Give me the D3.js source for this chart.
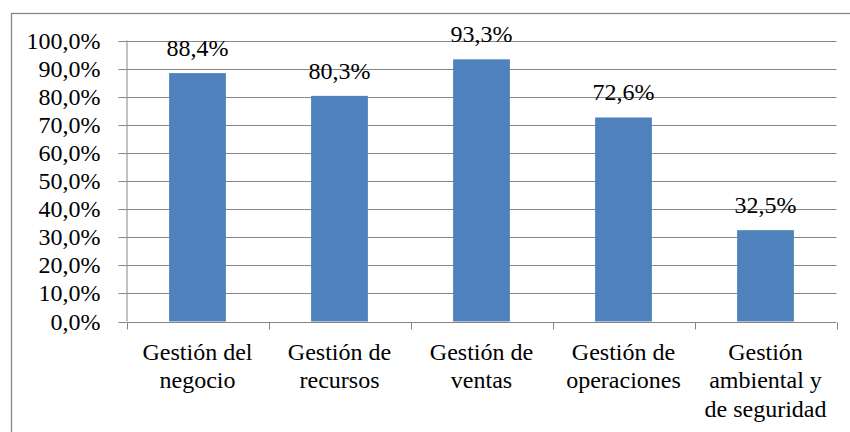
<!DOCTYPE html>
<html>
<head>
<meta charset="utf-8">
<script src="https://cdn.jsdelivr.net/npm/d3@7"></script>
</head>
<body style="margin:0">
<svg id="chart" width="850" height="432" font-family="Liberation Serif"></svg>
<script>
// Category labels (line breaks mark where each label wraps)
const categories = [
  "Gestión del\nnegocio",
  "Gestión de\nrecursos",
  "Gestión de\nventas",
  "Gestión de\noperaciones",
  "Gestión\nambiental y\nde seguridad"
];
// Share per area, in percent
const values = [88.4, 80.3, 93.3, 72.6, 32.5];
// Y axis ticks, in percent
const yTicks = [0, 10, 20, 30, 40, 50, 60, 70, 80, 90, 100];

const FS = 24;
const svg = d3.select("#chart");
const W = 850, H = 432;
const margin = { left: 126.5, right: 850 - 836.5, top: 40.5, bottom: 432 - 321.5 };
const gridColor = "#868686";
const fmt = v => v.toFixed(1).replace(".", ",") + "%";

// outer frame
svg.append("rect")
  .attr("x", 11.5).attr("y", 13.5)
  .attr("width", W).attr("height", H)
  .attr("fill", "none").attr("stroke", gridColor).attr("stroke-width", 1.3);

const x = d3.scaleBand().domain(categories)
  .range([margin.left, W - margin.right]).paddingInner(0.6).paddingOuter(0.3);
const y = d3.scaleLinear().domain([0, 100]).range([H - margin.bottom, margin.top]);

// horizontal grid lines
svg.append("g").selectAll("line").data(yTicks.filter(d => d > 0)).join("line")
  .attr("x1", margin.left).attr("x2", W - margin.right)
  .attr("y1", d => Math.round(y(d)) + 0.5).attr("y2", d => Math.round(y(d)) + 0.5)
  .attr("stroke", gridColor).attr("stroke-width", 1);

// bars
svg.append("g").selectAll("rect").data(values).join("rect")
  .attr("x", (d, i) => x(categories[i]))
  .attr("width", x.bandwidth())
  .attr("y", d => y(d))
  .attr("height", d => y(0) - y(d))
  .attr("fill", "#4F81BD");

// y axis
const yAxis = d3.axisLeft(y).tickValues(yTicks).tickSize(8).tickPadding(18)
  .tickFormat(d => fmt(d));
const gy = svg.append("g").attr("transform", `translate(${margin.left},0)`).call(yAxis)
  .attr("font-family", "Liberation Serif").attr("font-size", FS);
gy.select(".domain").attr("stroke", gridColor).attr("d", `M0.5,${y(0)}V${y(100)}`);
gy.selectAll(".tick line").attr("stroke", gridColor).attr("x2", -8);
gy.selectAll(".tick").attr("transform", d => `translate(0,${Math.round(y(d)) + 0.5})`);
gy.selectAll(".tick text").attr("fill", "#000");

// x axis line with boundary ticks between categories
const xAxisY = Math.round(y(0)) + 0.5;
const gx = svg.append("g");
gx.append("line")
  .attr("x1", margin.left).attr("x2", W - margin.right)
  .attr("y1", xAxisY).attr("y2", xAxisY)
  .attr("stroke", gridColor);
const bounds = d3.range(categories.length + 1).map(i => margin.left + i * (W - margin.left - margin.right) / categories.length);
gx.selectAll("line.tk").data(bounds).join("line").attr("class", "tk")
  .attr("x1", d => Math.round(d) + 0.5).attr("x2", d => Math.round(d) + 0.5)
  .attr("y1", xAxisY).attr("y2", xAxisY + 7)
  .attr("stroke", gridColor);

// category labels
categories.forEach((c, i) => {
  const cx = x(c) + x.bandwidth() / 2;
  const t = svg.append("text")
    .attr("x", cx).attr("y", 360)
    .attr("text-anchor", "middle").attr("font-size", FS)
    .attr("font-family", "Liberation Serif").attr("fill", "#000");
  c.split("\n").forEach((line, j) => {
    t.append("tspan").attr("x", cx).attr("dy", j === 0 ? 0 : 28.3).text(line);
  });
});

// value labels above bars
svg.append("g").selectAll("text").data(values).join("text")
  .attr("x", (d, i) => x(categories[i]) + x.bandwidth() / 2)
  .attr("y", d => y(d) - 17)
  .attr("text-anchor", "middle").attr("font-size", FS)
  .attr("font-family", "Liberation Serif").attr("fill", "#000")
  .text(d => fmt(d));
</script>
</body>
</html>
